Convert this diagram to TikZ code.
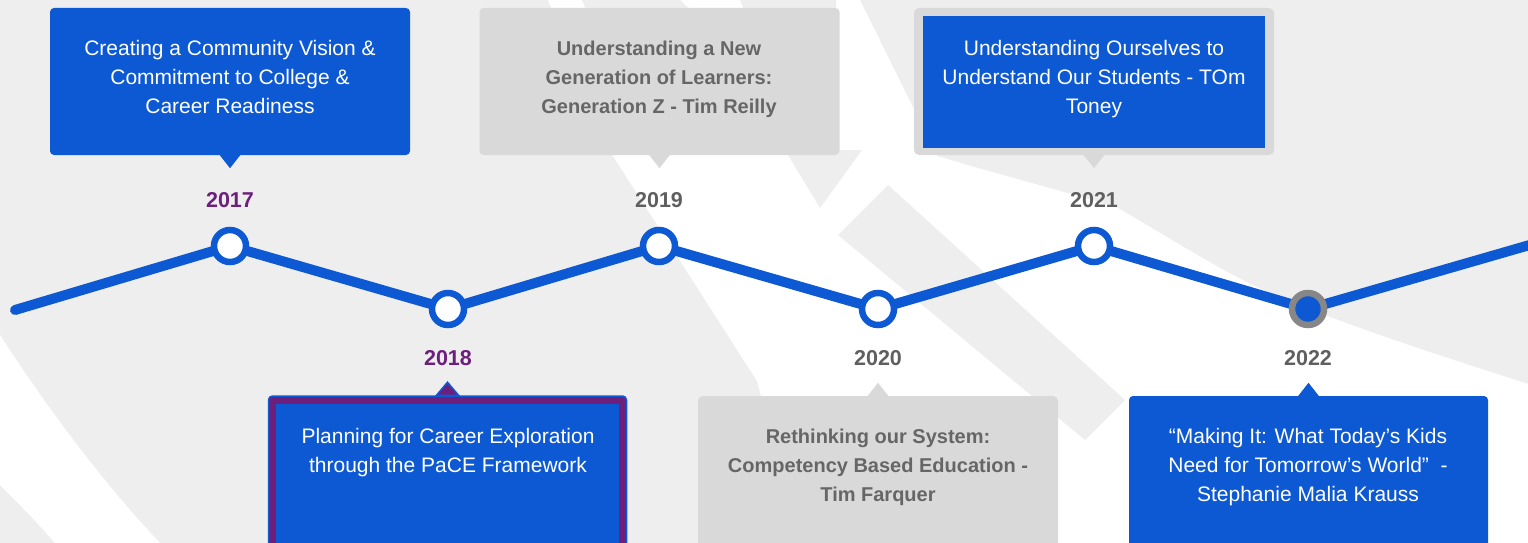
\documentclass[tikz,border=0pt]{standalone}
\usepackage{fontspec}
\setmainfont{Liberation Sans}
\usetikzlibrary{calc}

\definecolor{bg}{HTML}{EEEEEE}
\definecolor{tlblue}{HTML}{0D59D3}
\definecolor{boxgray}{HTML}{D9D9D9}
\definecolor{txtgray}{HTML}{666666}
\definecolor{yeargray}{HTML}{5F5F5F}
\definecolor{plum}{HTML}{6D1F7C}
\definecolor{ringgray}{HTML}{878787}

\tikzset{
  tlline/.style={draw=tlblue, line width=10, line cap=round, line join=round},
  dot/.style={circle, draw=tlblue, line width=6.5, fill=white, inner sep=0, minimum size=32},
  nowdot/.style={circle, draw=ringgray, line width=6.5, fill=tlblue, inner sep=0, minimum size=32},
  year/.style={font=\fontsize{21.5}{24}\selectfont\bfseries, anchor=base, inner sep=0},
  card/.style={rectangle, inner sep=0, minimum width=360, rounded corners=4},
  bluecard/.style={card, fill=tlblue},
  graycard/.style={card, fill=boxgray},
  btext/.style={font=\fontsize{21}{29}\selectfont, align=center, anchor=north, inner sep=0, text=white},
  gtext/.style={btext, font=\fontsize{20}{29}\selectfont\bfseries, text=txtgray},
}

\begin{document}
\begin{tikzpicture}[x=1pt, y=-1pt]
\useasboundingbox (0,0) rectangle (1528,543);
\clip (0,0) rectangle (1528,543);

% backdrop: light gray with white sweeping bands
\fill[bg] (0,0) rectangle (1528,543);
\fill[white] (0,335) .. controls (55,420) and (110,490) .. (160,543)
  -- (55,543) .. controls (35,520) and (15,500) .. (0,485) -- cycle;
\fill[white] (548,0) -- (860,0) -- (937,156)
  .. controls (1000,175) and (1060,190) .. (1118,208)
  .. controls (1190,250) and (1250,290) .. (1317,312)
  .. controls (1390,340) and (1460,362) .. (1528,384)
  -- (1528,543) -- (800,543) -- (757,381) -- (613,156) -- cycle;
\fill[bg] (582,0) -- (680,0) -- (690,10) -- (586,10) -- cycle;
\fill[bg] (740,0) -- (836,0) -- (836,10) -- (744,10) -- cycle;
\fill[bg] (785,150) -- (862,150) -- (820,208) -- cycle;
\fill[bg] (888,185) -- (1125,400) -- (1085,440) -- (838,235) -- cycle;

% timeline path and milestones
\coordinate (s) at (15,310);
\coordinate (p17) at (230,246);
\coordinate (p18) at (448,309);
\coordinate (p19) at (659,246);
\coordinate (p20) at (878,309);
\coordinate (p21) at (1094,246);
\coordinate (p22) at (1308,309);
\coordinate (e) at (1540,242);
\draw[tlline] (s) -- (p17) -- (p18) -- (p19) -- (p20) -- (p21) -- (p22) -- (e);

\node[dot] (d17) at (p17) {};
\node[dot] (d18) at (p18) {};
\node[dot] (d19) at (p19) {};
\node[dot] (d20) at (p20) {};
\node[dot] (d21) at (p21) {};
\node[nowdot] (d22) at (p22) {};

% year labels
\node[year, text=plum] (y17) at (230,207) {2017};
\node[year, text=plum] (y18) at (448,365) {2018};
\node[year, text=yeargray] (y19) at (659,207) {2019};
\node[year, text=yeargray] (y20) at (878,365) {2020};
\node[year, text=yeargray] (y21) at (1094,207) {2021};
\node[year, text=yeargray] (y22) at (1308,365) {2022};

% upper cards
\node[bluecard, minimum height=147] (c17) at (230,81.5) {};
\fill[tlblue] ($(c17.south)+(-11,-1)$) -- ++(11,14) -- ++(11,-14) -- cycle;
\node[btext] (t17) at (230,34.7) {\strut Creating a Community Vision \&\\Commitment to College \&\\Career Readiness};

\node[graycard, minimum height=147] (c19) at (659.5,81.5) {};
\fill[boxgray] ($(c19.south)+(-11,-1)$) -- ++(11,14) -- ++(11,-14) -- cycle;
\node[gtext] (t19) at (659,34.7) {\strut Understanding a New\\Generation of Learners:\\Generation Z - Tim Reilly};

\node[graycard, rounded corners=5, minimum height=147] (c21) at (1094,81.5) {};
\fill[boxgray] ($(c21.south)+(-11,-1)$) -- ++(11,14) -- ++(11,-14) -- cycle;
\node[rectangle, fill=tlblue, inner sep=0, minimum width=342, minimum height=132] (i21) at (1094,82) {};
\node[btext] (t21) at (1094,34.7) {\strut Understanding Ourselves to\\Understand Our Students - TOm\\Toney};

% lower cards
\node[card, fill=plum, draw=tlblue, line width=1.5, minimum width=358, minimum height=170] (c18) at (447.5,481) {};
\node[rectangle, fill=tlblue, inner sep=0, minimum width=343, minimum height=160] (i18) at (447.5,484) {};
\filldraw[fill=plum, draw=tlblue, line width=1.5, line join=miter] ($(c18.north)+(-11,0)$) -- ++(11,-13) -- ++(11,13) -- cycle;
\node[btext] (t18) at (448,422.7) {\strut Planning for Career Exploration\\through the PaCE Framework};

\node[graycard, rounded corners=5, minimum height=170] (c20) at (878,481) {};
\fill[boxgray] ($(c20.north)+(-11,1)$) -- ++(11,-14) -- ++(11,14) -- cycle;
\node[gtext] (t20) at (878,422.7) {\strut Rethinking our System:\\Competency Based Education -\\Tim Farquer};

\node[bluecard, minimum width=359, minimum height=170] (c22) at (1308.5,481) {};
\fill[tlblue] ($(c22.north)+(-11,1)$) -- ++(11,-14) -- ++(11,14) -- cycle;
\node[btext] (t22) at (1308,422.7) {\strut “Making It: What Today’s Kids\\Need for Tomorrow’s World”~ -\\Stephanie Malia Krauss};
\end{tikzpicture}
\end{document}
